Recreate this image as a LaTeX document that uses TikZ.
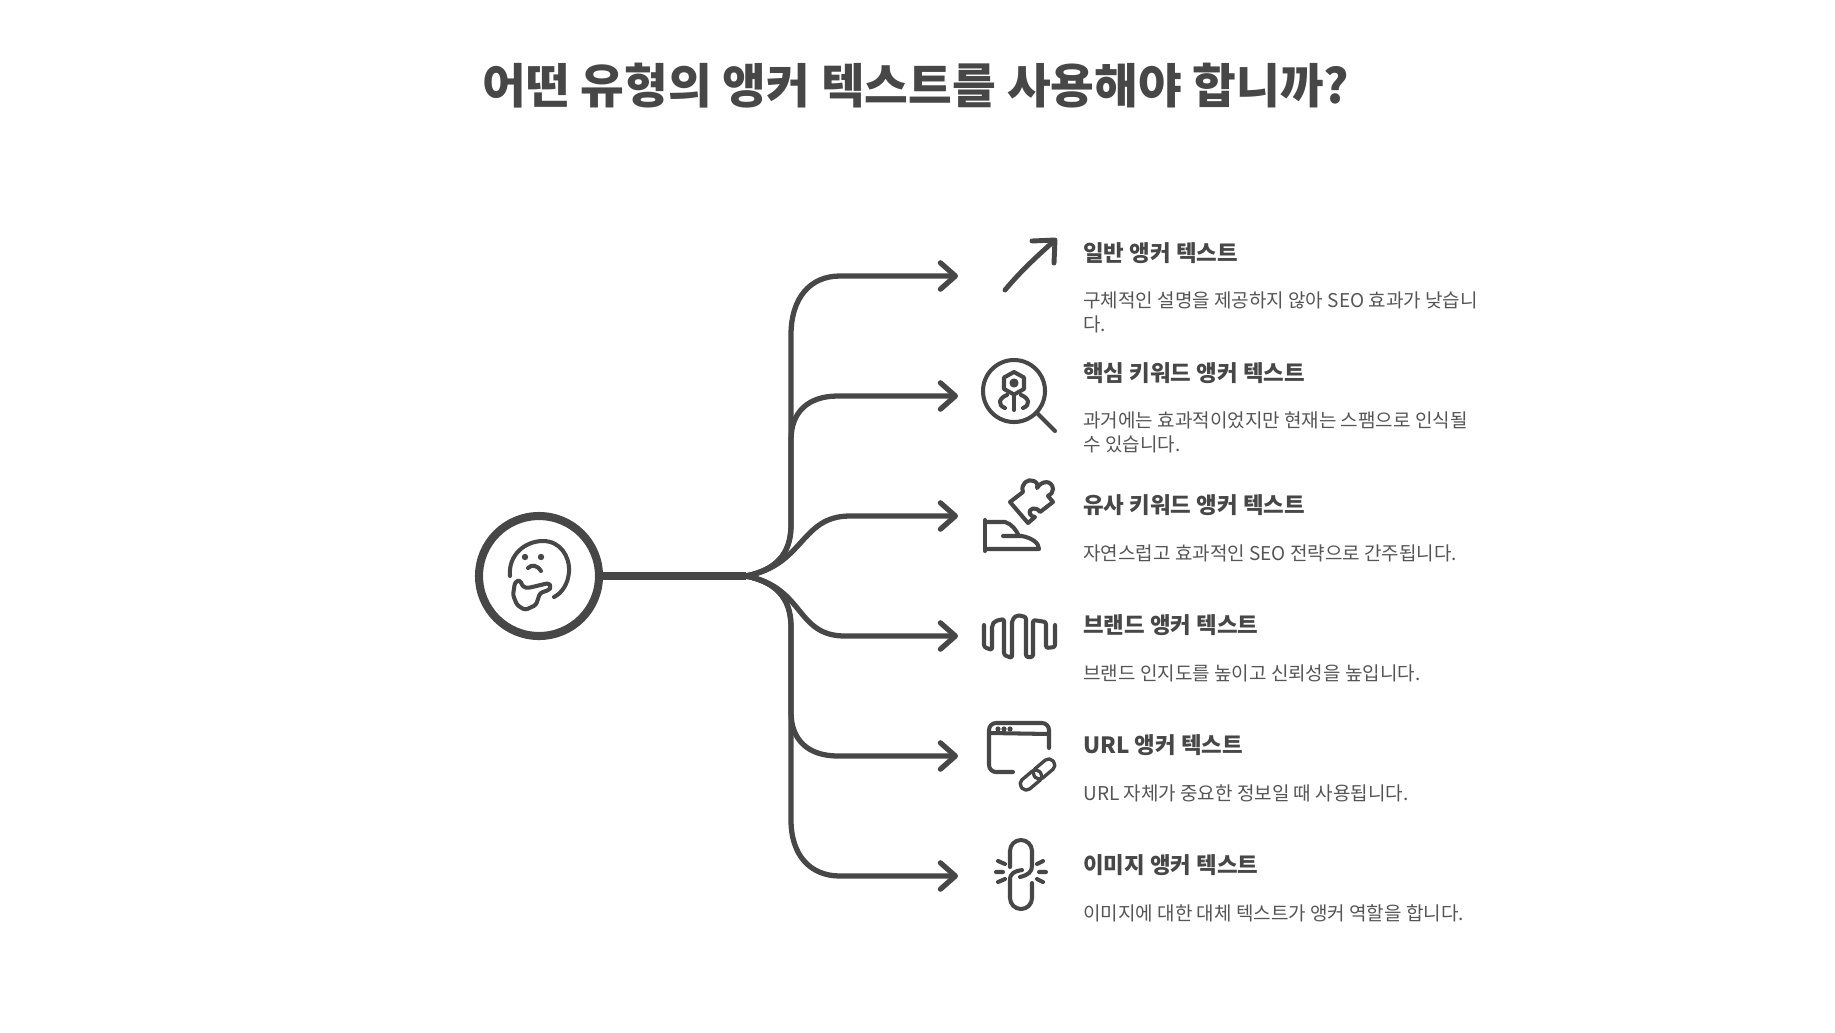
\documentclass[tikz,border=0pt]{standalone}
\usepackage{fontspec}
\setmainfont{Noto Sans CJK KR}
\usetikzlibrary{arrows.meta}
\definecolor{inkgray}{HTML}{474747}
\definecolor{textgray}{HTML}{555555}
\tikzset{
	branchline/.style={line width=3pt,color=inkgray,line cap=round,-{Straight Barb[length=8.5pt,width=15pt,round]}},
	iconline/.style={line width=2.3pt,color=inkgray,line cap=round,line join=round},
	headtext/.style={anchor=west,inner sep=0pt,color=inkgray,font=\fontsize{12.75pt}{16pt}\selectfont\bfseries},
	desctext/.style={anchor=west,inner sep=0pt,color=textgray,align=left,font=\fontsize{10.82pt}{13.7pt}\selectfont},
}
\begin{document}
\begin{tikzpicture}[x=0.02cm,y=-0.02cm]
	\useasboundingbox (0,0) rectangle (1835,1032);
	\fill[white] (0,0) rectangle (1835,1032);
	% Title
	\node[inner sep=0pt,color=inkgray,font=\fontsize{27.05pt}{30pt}\selectfont\bfseries] (title) at (916,86) {어떤 유형의 앵커 텍스트를 사용해야 합니까?};
	% Hub and fork
	\node[circle,draw=inkgray,line width=4.6pt,minimum size=2.4cm] (hub) at (539,576) {};
	\coordinate (fork) at (746,576);
	\coordinate (tipa) at (958,276);
	\coordinate (tipb) at (958,396);
	\coordinate (tipc) at (958,516);
	\coordinate (tipd) at (958,636);
	\coordinate (tipe) at (958,756);
	\coordinate (tipf) at (958,876);
	\draw[line width=4.6pt,color=inkgray] (hub) -- (fork);
	% Branches
	\draw[branchline] (fork) .. controls (775,570) and (791,555) .. (791,525) -- (791,335) .. controls (791,298) and (810,276) .. (840,276) -- (tipa);
	\draw[branchline] (fork) .. controls (775,570) and (791,555) .. (791,525) -- (791,440) .. controls (791,412) and (808,396) .. (838,396) -- (tipb);
	\draw[branchline] (fork) .. controls (805,565) and (800,516) .. (850,516) -- (tipc);
	\draw[branchline] (fork) .. controls (805,587) and (795,636) .. (845,636) -- (tipd);
	\draw[branchline] (fork) .. controls (775,582) and (791,597) .. (791,627) -- (791,712) .. controls (791,740) and (808,756) .. (838,756) -- (tipe);
	\draw[branchline] (fork) .. controls (775,582) and (791,597) .. (791,627) -- (791,820) .. controls (791,855) and (810,876) .. (840,876) -- (tipf);
	% Thinking face
	\draw[iconline] (510,576) .. controls (508,555) and (525,541) .. (543,541) .. controls (560,541) and (570,556) .. (569,572) .. controls (568,584) and (562,593) .. (554,597);
	\fill[inkgray] (525,557) circle[radius=3.2] (541,557) circle[radius=3.2];
	\draw[iconline] (528,568) .. controls (532,564) and (537,565) .. (541,571);
	\draw[iconline,rounded corners=1.5pt] (528,588) -- (549,583) -- (551,587) -- (549,590) -- (540,593) -- (536,605) -- (525,610) -- (517,605) -- (513,595) -- (515,582) -- (520,580) -- (523,587) -- cycle;
	% Up arrow
	\draw[iconline,line width=2.8pt] (1005,290) .. controls (1020,272) and (1035,258) .. (1054,241);
	\draw[iconline,line width=2.8pt] (1032,241) -- (1055,240) -- (1054,263);
	% Magnifier
	\draw[iconline] (1014,391) circle[radius=31];
	\draw[iconline] (1037,413) -- (1055,431);
	\draw[iconline] (1014,372) -- (1024,377.5) -- (1024,389) -- (1014,394.5) -- (1004,389) -- (1004,377.5) -- cycle;
	\draw[iconline] (1014,383) circle[radius=2.5];
	\draw[iconline] (1014,396) -- (1014,410);
	\draw[iconline] (1007,395) .. controls (999,398) and (997,405) .. (1005,408);
	\draw[iconline] (1021,395) .. controls (1029,398) and (1031,405) .. (1023,408);
	% Puzzle and iron
	\draw[iconline] (1010,502) -- (1023,492) .. controls (1020,484) and (1028,478) .. (1034,481) .. controls (1038,483) and (1038,486) .. (1037,488) .. controls (1042,480) and (1052,480) .. (1053,489) .. controls (1053,492) and (1051,495) .. (1048,496) -- (1053,502) -- (1040,512) .. controls (1036,506) and (1028,508) .. (1030,514) .. controls (1031,516) and (1033,517) .. (1035,517) -- (1028,523) -- cycle;
	\draw[iconline] (985,520) -- (985,551);
	\draw[iconline] (985,522) -- (1005,522) .. controls (1012,524) and (1016,530) .. (1019,536);
	\draw[iconline] (1003,536) -- (1022,536) .. controls (1032,538) and (1039,543) .. (1039,549) -- (985,549);
	% Wave
	\draw[iconline,rounded corners=1.2pt] (984,625) -- (984,647) -- (992,650) -- (992,625) -- (995,621) -- (1004,619) -- (1004,655) -- (1012,658) -- (1012,620) -- (1017,615) -- (1026,617) -- (1026,657) -- (1033,657) -- (1033,620) -- (1046,622) -- (1046,648) -- (1055,647) -- (1055,625);
	% Browser window and link
	\draw[iconline,rounded corners=4pt] (1049,748) -- (1049,723) -- (989,723) -- (989,772) -- (1013,772);
	\draw[iconline] (991,733) -- (1049,734);
	\fill[inkgray] (998,729) circle[radius=2.6] (1004,729) circle[radius=2.6] (1010,729) circle[radius=2.6];
	\draw[iconline,line width=1.9pt,rotate around={40:(1031,780)},rounded corners=3pt] (1019,774) rectangle (1043,786);
	\draw[iconline,line width=1.9pt,rotate around={40:(1044,769)},rounded corners=3pt] (1032,763) rectangle (1056,775);
	% Broken chain
	\draw[iconline] (1010,867) -- (1010,851) arc (180:360:11) -- (1032,866) .. controls (1032,872) and (1028,875) .. (1020,877);
	\draw[iconline] (1022,870) .. controls (1015,871) and (1010,873) .. (1010,880) -- (1010,898) arc (180:0:11) -- (1032,883);
	\draw[iconline] (998,861) -- (1005,864) (996,872) -- (1003,872) (998,882) -- (1005,879);
	\draw[iconline] (1043,861) -- (1037,864) (1046,872) -- (1039,872) (1043,882) -- (1037,879);
	% Labels
	\node[headtext] (heada) at (1083,253) {일반 앵커 텍스트};
	\node[desctext] (desca) at (1083,312.5) {구체적인 설명을 제공하지 않아 SEO 효과가 낮습니\\다.};
	\node[headtext] (headb) at (1083,373) {핵심 키워드 앵커 텍스트};
	\node[desctext] (descb) at (1083,432.5) {과거에는 효과적이었지만 현재는 스팸으로 인식될\\수 있습니다.};
	\node[headtext] (headc) at (1083,505) {유사 키워드 앵커 텍스트};
	\node[desctext] (descc) at (1083,553) {자연스럽고 효과적인 SEO 전략으로 간주됩니다.};
	\node[headtext] (headd) at (1083,625) {브랜드 앵커 텍스트};
	\node[desctext] (descd) at (1083,673) {브랜드 인지도를 높이고 신뢰성을 높입니다.};
	\node[headtext] (heade) at (1083,745) {URL 앵커 텍스트};
	\node[desctext] (desce) at (1083,793) {URL 자체가 중요한 정보일 때 사용됩니다.};
	\node[headtext] (headf) at (1083,865) {이미지 앵커 텍스트};
	\node[desctext] (descf) at (1083,913) {이미지에 대한 대체 텍스트가 앵커 역할을 합니다.};
\end{tikzpicture}
\end{document}
